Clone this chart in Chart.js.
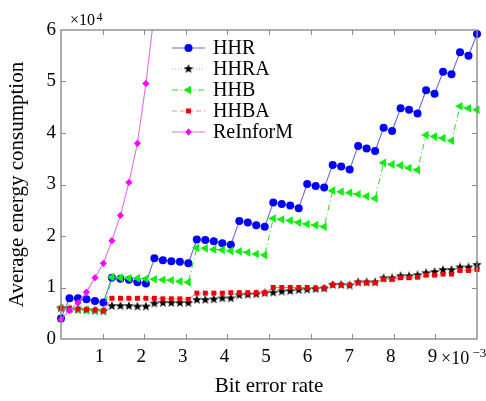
<!DOCTYPE html>
<html>
<head>
<meta charset="utf-8">
<script src="https://cdn.jsdelivr.net/npm/chart.js@4.4.1/dist/chart.umd.min.js"></script>
<style>
  html, body { margin: 0; padding: 0; background: #fff; }
  #wrap { width: 486px; height: 401px; }
</style>
</head>
<body>
<div id="wrap"><canvas id="energyChart" width="486" height="401"></canvas></div>
<script>
// bit error rate, in units of 1e-3
const bitErrorRate = [0, 0.204, 0.408, 0.612, 0.816, 1.020, 1.224, 1.429, 1.633, 1.837,
  2.041, 2.245, 2.449, 2.653, 2.857, 3.061, 3.265, 3.469, 3.673, 3.878,
  4.082, 4.286, 4.490, 4.694, 4.898, 5.102, 5.306, 5.510, 5.714, 5.918,
  6.122, 6.327, 6.531, 6.735, 6.939, 7.143, 7.347, 7.551, 7.755, 7.959,
  8.163, 8.367, 8.571, 8.776, 8.980, 9.184, 9.388, 9.592, 9.796, 10.0];

// average energy consumption, in units of 1e4
const hhr = [0.40, 0.79, 0.79, 0.77, 0.74, 0.71,
  1.19, 1.17, 1.15, 1.10, 1.08,
  1.57, 1.53, 1.51, 1.50, 1.47,
  1.93, 1.92, 1.90, 1.86, 1.83,
  2.29, 2.26, 2.21, 2.18,
  2.65, 2.62, 2.59, 2.54,
  3.01, 2.97, 2.94,
  3.38, 3.35, 3.29,
  3.75, 3.70, 3.65,
  4.10, 4.04,
  4.48, 4.45, 4.38,
  4.83, 4.76,
  5.19, 5.14,
  5.57, 5.50,
  5.92];

const hhra = [0.60, 0.58, 0.57, 0.56, 0.55, 0.54,
  0.64, 0.64, 0.64, 0.63, 0.63,
  0.69, 0.70, 0.70, 0.70, 0.70,
  0.76, 0.76, 0.77, 0.79, 0.79,
  0.85, 0.86, 0.87, 0.89,
  0.90, 0.92, 0.93, 0.95, 0.96, 0.97, 0.98,
  1.05, 1.05, 1.04,
  1.10, 1.10, 1.10,
  1.18, 1.18,
  1.22, 1.22, 1.24,
  1.28, 1.30,
  1.34, 1.34,
  1.39, 1.39,
  1.44];

const hhb = [0.60, 0.58, 0.57, 0.56, 0.55, 0.54,
  1.20, 1.19, 1.18, 1.18, 1.17, 1.16, 1.15, 1.14, 1.12, 1.10,
  1.77, 1.76, 1.74, 1.73, 1.71, 1.70, 1.68, 1.65, 1.63,
  2.34, 2.32, 2.30, 2.26, 2.23, 2.21, 2.18,
  2.88, 2.86, 2.84, 2.81, 2.77, 2.73,
  3.42, 3.39, 3.37, 3.32, 3.28,
  3.96, 3.93, 3.90, 3.85,
  4.52, 4.48, 4.45];

const hhba = [0.60, 0.59, 0.58, 0.57, 0.56, 0.55,
  0.79, 0.79, 0.79, 0.79, 0.79, 0.79, 0.78, 0.78, 0.78, 0.77,
  0.89, 0.89, 0.89, 0.89, 0.90, 0.90, 0.90, 0.90, 0.90,
  1.00, 1.00, 1.00, 1.00, 1.00, 0.99, 0.99,
  1.05, 1.05, 1.05,
  1.09, 1.09, 1.09,
  1.16, 1.16,
  1.19, 1.19, 1.20,
  1.24, 1.24,
  1.26, 1.26,
  1.33, 1.33,
  1.35];

const reinform = [0.38, 0.55, 0.70, 0.91, 1.19, 1.47, 1.91, 2.40, 3.04, 3.80, 4.96, 6.35, 8.0];

const xTicks = [1, 2, 3, 4, 5, 6, 7, 8, 9];
const yTicks = [0, 1, 2, 3, 4, 5, 6];

const serif = "'Liberation Serif', 'DejaVu Serif', serif";

function pairs(values) {
  return values.map((v, i) => ({ x: bitErrorRate[i], y: v }));
}

// filled five point star used as marker image
function starImage(size, color) {
  const c = document.createElement('canvas');
  c.width = size; c.height = size;
  const g = c.getContext('2d');
  const cx = size / 2, cy = size / 2, R = size / 2, r = R * 0.42;
  g.fillStyle = color;
  g.beginPath();
  for (let i = 0; i < 10; i++) {
    const a = -Math.PI / 2 + i * Math.PI / 5;
    const rad = i % 2 ? r : R;
    g.lineTo(cx + rad * Math.cos(a), cy + rad * Math.sin(a));
  }
  g.closePath();
  g.fill();
  return c;
}
const star = starImage(10, '#000');

function drawMarker(ctx, kind, x, y, color) {
  ctx.save();
  ctx.fillStyle = color;
  ctx.beginPath();
  if (kind === 'circle') {
    ctx.arc(x, y, 4, 0, Math.PI * 2);
    ctx.fill();
  } else if (kind === 'star') {
    ctx.drawImage(star, x - 5, y - 5);
  } else if (kind === 'tri') {
    ctx.moveTo(x - 5, y);
    ctx.lineTo(x + 2.5, y - 4.3);
    ctx.lineTo(x + 2.5, y + 4.3);
    ctx.closePath();
    ctx.fill();
  } else if (kind === 'square') {
    ctx.fillRect(x - 2.5, y - 2.5, 5, 5);
  } else if (kind === 'diamond') {
    ctx.moveTo(x, y - 3.8);
    ctx.lineTo(x + 3.2, y);
    ctx.lineTo(x, y + 3.8);
    ctx.lineTo(x - 3.2, y);
    ctx.closePath();
    ctx.fill();
  }
  ctx.restore();
}

const legendItems = [
  { text: 'HHR', line: '#6a6ad8', dash: [], marker: 'circle', color: '#0000ff' },
  { text: 'HHRA', line: '#aaaaaa', dash: [1, 2], marker: 'star', color: '#000' },
  { text: 'HHB', line: '#22dd22', dash: [6, 3, 1, 3], marker: 'tri', color: '#11ee11' },
  { text: 'HHBA', line: '#ff8c8c', dash: [5, 3], marker: 'square', color: '#ee0000' },
  { text: 'ReInforM', line: '#e070e0', dash: [], marker: 'diamond', color: '#ff00ff' }
];

const frame = {
  id: 'frame',
  afterDatasetsDraw(chart) {
    const { ctx, chartArea: a, scales } = chart;
    ctx.save();
    ctx.strokeStyle = '#8a8a8a';
    ctx.lineWidth = 1.4;
    ctx.strokeRect(a.left, a.top, a.right - a.left, a.bottom - a.top);
    ctx.lineWidth = 1;
    ctx.beginPath();
    xTicks.forEach(t => {
      const px = Math.round(scales.x.getPixelForValue(t)) + 0.5;
      ctx.moveTo(px, a.bottom); ctx.lineTo(px, a.bottom - 5);
      ctx.moveTo(px, a.top); ctx.lineTo(px, a.top + 5);
    });
    yTicks.slice(1, -1).forEach(t => {
      const py = Math.round(scales.y.getPixelForValue(t)) + 0.5;
      ctx.moveTo(a.left, py); ctx.lineTo(a.left + 5, py);
      ctx.moveTo(a.right, py); ctx.lineTo(a.right - 5, py);
    });
    ctx.stroke();
    ctx.restore();
  },
  afterDraw(chart) {
    const { ctx } = chart;
    ctx.save();
    // legend
    legendItems.forEach((it, i) => {
      const y = 48 + i * 21;
      ctx.strokeStyle = it.line;
      ctx.lineWidth = 1.2;
      ctx.setLineDash(it.dash);
      ctx.beginPath();
      ctx.moveTo(172, y); ctx.lineTo(205, y);
      ctx.stroke();
      ctx.setLineDash([]);
      drawMarker(ctx, it.marker, 188.5, y, it.color);
      ctx.fillStyle = '#000';
      ctx.font = '20px ' + serif;
      ctx.textBaseline = 'middle';
      ctx.textAlign = 'left';
      ctx.fillText(it.text, 213, y + 1);
    });
    // exponent labels
    ctx.textBaseline = 'alphabetic';
    ctx.font = '16px ' + serif;
    ctx.fillText('\u00d710', 70, 25);
    ctx.font = '12px ' + serif;
    ctx.fillText('4', 96.5, 21);
    ctx.font = '18px ' + serif;
    ctx.fillText('\u00d710', 441, 364);
    ctx.font = '13px ' + serif;
    ctx.fillText('\u22123', 472.5, 357);
    ctx.restore();
  }
};

const edgeClip = { left: 10, right: 10, top: 10, bottom: 10 };

new Chart(document.getElementById('energyChart'), {
  type: 'line',
  data: {
    datasets: [
      {
        label: 'HHR', data: pairs(hhr), order: 5, clip: edgeClip,
        borderColor: '#6a6ad8', borderWidth: 1.1,
        pointStyle: 'circle', pointRadius: 4,
        pointBackgroundColor: '#0000ff', pointBorderColor: '#0000ff', pointBorderWidth: 0
      },
      {
        label: 'HHRA', data: pairs(hhra), order: 4, clip: edgeClip,
        borderColor: '#666666', borderWidth: 1, borderDash: [1, 2],
        pointStyle: star, pointRadius: 4
      },
      {
        label: 'HHB', data: pairs(hhb), order: 3, clip: edgeClip,
        borderColor: '#22dd22', borderWidth: 1, borderDash: [6, 3, 1, 3],
        pointStyle: 'triangle', pointRotation: -90, pointRadius: 5,
        pointBackgroundColor: '#11ee11', pointBorderColor: '#11ee11', pointBorderWidth: 0
      },
      {
        label: 'HHBA', data: pairs(hhba), order: 2, clip: edgeClip,
        borderColor: '#ff7070', borderWidth: 1, borderDash: [5, 3],
        pointStyle: 'rect', pointRadius: 3.5,
        pointBackgroundColor: '#ee0000', pointBorderColor: '#ee0000', pointBorderWidth: 0
      },
      {
        label: 'ReInforM', data: pairs(reinform), order: 1,
        clip: { left: 10, right: 10, top: 0, bottom: 10 },
        borderColor: '#e070e0', borderWidth: 1.1,
        pointStyle: 'rectRot', pointRadius: 3.6,
        pointBackgroundColor: '#ff00ff', pointBorderColor: '#ff00ff', pointBorderWidth: 0
      }
    ]
  },
  options: {
    responsive: false,
    animation: false,
    events: [],
    layout: { padding: { left: 0, top: 30, right: 9, bottom: 0 } },
    elements: { line: { tension: 0 } },
    plugins: { legend: { display: false }, tooltip: { enabled: false } },
    scales: {
      x: {
        type: 'linear', min: 0, max: 10,
        afterFit: s => { s.height = 62; },
        grid: { display: false, drawTicks: false },
        border: { display: false },
        ticks: {
          stepSize: 1, padding: 7, color: '#000', labelOffset: -3,
          font: { family: serif, size: 19 },
          callback: v => (v === 0 || v === 10) ? '' : v
        },
        title: {
          display: true, text: 'Bit error rate', color: '#000',
          font: { family: serif, size: 21 }, padding: { top: 0, bottom: 2 }
        }
      },
      y: {
        min: 0, max: 6,
        afterFit: s => { s.width = 61; },
        grid: { display: false, drawTicks: false },
        border: { display: false },
        ticks: {
          stepSize: 1, padding: 5, color: '#000',
          font: { family: serif, size: 19 }
        },
        title: {
          display: true, text: 'Average energy consumption', color: '#000',
          font: { family: serif, size: 21 }, padding: { top: 5, bottom: 0 }
        }
      }
    }
  },
  plugins: [frame]
});
</script>
</body>
</html>
